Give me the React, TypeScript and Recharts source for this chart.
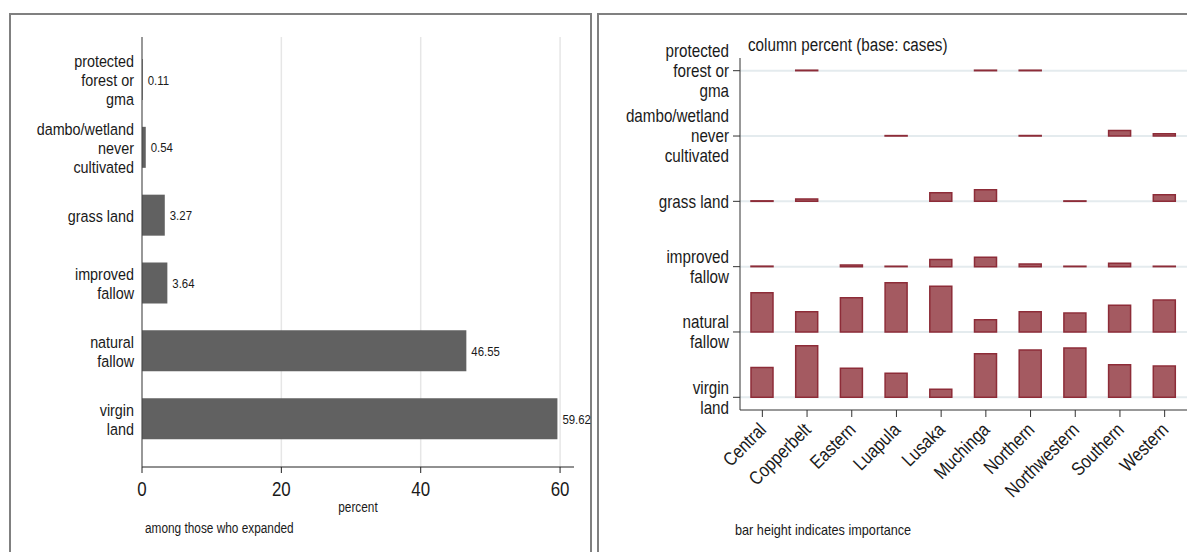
import React from 'react';
import { BarChart, Bar, XAxis, YAxis, CartesianGrid, LabelList } from 'recharts';

// left panel: share of expanders by land type (top to bottom)
const landTypes = ['protected forest or gma', 'dambo/wetland never cultivated', 'grass land', 'improved fallow', 'natural fallow', 'virgin land'];
const landLines = [['protected', 'forest or', 'gma'], ['dambo/wetland', 'never', 'cultivated'], ['grass land'], ['improved', 'fallow'], ['natural', 'fallow'], ['virgin', 'land']];
const expandedPct = [0.11, 0.54, 3.27, 3.64, 46.55, 59.62];
const percentTicks = [0, 20, 40, 60];

// right panel: column percent by province
const regions = ['Central', 'Copperbelt', 'Eastern', 'Luapula', 'Lusaka', 'Muchinga', 'Northern', 'Northwestern', 'Southern', 'Western'];
const virginLand = [41, 71, 40, 33, 11, 60, 65, 68, 45, 43];
const naturalFallow = [54, 28, 47, 68, 63, 17, 28, 26, 37, 44];
const improvedFallow = [0.7, 0, 2.3, 0.6, 10, 13, 3.7, 0.6, 4.7, 0.6];
const grassLand = [0.7, 3.3, 0, 0, 12, 16, 0, 0.6, 0, 9.2];
const damboWetland = [0, 0, 0, 0.6, 0, 0, 0.7, 0, 7.7, 3.2];
const protectedForest = [0, 0.7, 0, 0, 0, 0.7, 0.7, 0, 0, 0];

const ROW_STEP = 90;
// bottom to top
const rows = [
  { key: 'virgin', lines: ['virgin', 'land'], values: virginLand },
  { key: 'natural', lines: ['natural', 'fallow'], values: naturalFallow },
  { key: 'improved', lines: ['improved', 'fallow'], values: improvedFallow },
  { key: 'grass', lines: ['grass land'], values: grassLand },
  { key: 'dambo', lines: ['dambo/wetland', 'never', 'cultivated'], values: damboWetland },
  { key: 'protected', lines: ['protected', 'forest or', 'gma'], values: protectedForest },
].map((r, i) => ({ ...r, offset: i * ROW_STEP }));

const leftData = landTypes.map((name, i) => ({ name, pct: expandedPct[i] }));

const regionData = regions.map((region, i) => {
  const row: any = { region };
  rows.forEach((r) => {
    row[r.key] = r.values[i] > 0 ? [r.offset, r.offset + r.values[i]] : null;
  });
  return row;
});

const FONT = '"Liberation Sans", Arial, sans-serif';
const NARROW = 0.845; // the original uses a condensed face
const ink = '#1a1a1a';

// svg text squeezed horizontally
const NarrowText = ({ x, y, rotate = 0, anchor = 'start', size, children }: any) => (
  <g transform={`translate(${x}, ${y}) rotate(${rotate}) scale(${NARROW}, 1)`}>
    <text x={0} y={0} textAnchor={anchor} fill={ink} fontSize={size} fontFamily={FONT}>
      {children}
    </text>
  </g>
);

const MultiLineTick = ({ x, y, payload, lookup, size }: any) => {
  const lines: string[] = lookup(payload.value) || [];
  const lh = size + 2;
  const start = -((lines.length - 1) / 2) * lh + size * 0.35;
  return (
    <g>
      {lines.map((l, i) => (
        <NarrowText key={i} x={x} y={y + start + i * lh} anchor="end" size={size}>{l}</NarrowText>
      ))}
    </g>
  );
};

const PercentTick = ({ x, y, payload }: any) => (
  <NarrowText x={x} y={y + 17} anchor="middle" size={20}>{payload.value}</NarrowText>
);

const RegionTick = ({ x, y, payload }: any) => (
  <NarrowText x={x + 5} y={y + 12} rotate={-45} anchor="end" size={19}>{payload.value}</NarrowText>
);

const ValueLabel = ({ x, y, width, height, value }: any) => (
  <NarrowText x={Number(x) + Number(width) + 5} y={Number(y) + Number(height) / 2 + 5} size={13.5}>
    {Number(value).toFixed(2)}
  </NarrowText>
);

const note = (left: number, top: number, text: string, size: number, center = false) => (
  <div
    style={{
      position: 'absolute',
      left,
      top,
      fontSize: size,
      fontFamily: FONT,
      color: ink,
      whiteSpace: 'nowrap',
      lineHeight: 1,
      transform: center ? `translateX(-50%) scaleX(${NARROW})` : `scaleX(${NARROW})`,
      transformOrigin: center ? 'center' : 'left',
    }}
  >
    {text}
  </div>
);

export default function App() {
  return (
    <div style={{ position: 'absolute', left: 0, top: 0, width: 1187, height: 552, overflow: 'hidden', background: '#fff' }}>
      <div style={{ position: 'absolute', left: 9, top: 13, width: 583, height: 560, border: '2px solid #808080', boxSizing: 'border-box' }} />
      <div style={{ position: 'absolute', left: 597, top: 13, width: 620, height: 560, border: '2px solid #808080', boxSizing: 'border-box' }} />

      <div style={{ position: 'absolute', left: 0, top: 0 }}>
        <BarChart
          width={595}
          height={552}
          data={leftData}
          layout="vertical"
          margin={{ top: 37, right: 21, bottom: 0, left: 0 }}
        >
          <CartesianGrid horizontal={false} syncWithTicks stroke="#e6e6e6" strokeWidth={1.5} />
          <XAxis
            type="number"
            domain={[0, 62]}
            ticks={percentTicks}
            height={85}
            tickSize={6}
            tickMargin={6}
            stroke="#222"
            tick={<PercentTick />}
          />
          <YAxis
            type="category"
            dataKey="name"
            width={142}
            padding={{ top: 9, bottom: 14 }}
            tickLine={false}
            stroke="#444"
            interval={0}
            tick={<MultiLineTick size={17} lookup={(v: string) => landLines[landTypes.indexOf(v)]} />}
          />
          <Bar dataKey="pct" fill="#616161" barSize={41} isAnimationActive={false}>
            <LabelList dataKey="pct" content={<ValueLabel />} />
          </Bar>
        </BarChart>
      </div>

      <div style={{ position: 'absolute', left: 598, top: 0 }}>
        <BarChart
          width={589}
          height={552}
          data={regionData}
          margin={{ top: 58, right: 0, bottom: 0, left: 0 }}
        >
          <CartesianGrid vertical={false} syncWithTicks xAxisId={0} stroke="#e4ebee" strokeWidth={2} />
          {rows.map((r, i) => (
            <XAxis
              key={r.key}
              xAxisId={i}
              dataKey="region"
              hide={i !== 0}
              height={142}
              interval={0}
              tickSize={7}
              stroke="#333"
              tick={<RegionTick />}
            />
          ))}
          <YAxis
            type="number"
            domain={[-17.5, 467.5]}
            ticks={rows.map((r) => r.offset)}
            interval={0}
            width={142}
            tickSize={7}
            tickMargin={4}
            stroke="#333"
            tick={<MultiLineTick size={18} lookup={(v: number) => rows.find((r) => r.offset === v)?.lines} />}
          />
          {rows.map((r, i) => (
            <Bar
              key={r.key}
              xAxisId={i}
              dataKey={r.key}
              barSize={22}
              fill="#a45a61"
              stroke="#8d2c38"
              strokeWidth={1.5}
              isAnimationActive={false}
            />
          ))}
        </BarChart>
      </div>

      {note(358, 500, 'percent', 14, true)}
      {note(145, 521, 'among those who expanded', 14)}
      {note(748, 36, 'column percent (base: cases)', 18)}
      {note(735, 522, 'bar height indicates importance', 15)}
    </div>
  );
}
